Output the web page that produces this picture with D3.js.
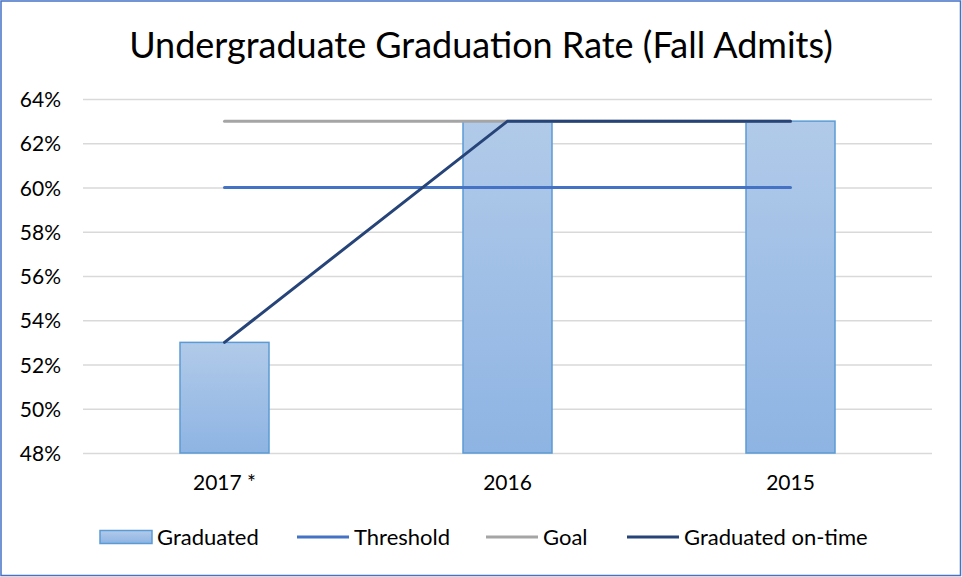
<!DOCTYPE html>
<html>
<head>
<meta charset="utf-8">
<script src="https://cdn.jsdelivr.net/npm/d3@7"></script>
<style>
  html, body { margin: 0; padding: 0; background: #fff; }
  svg text { font-family: Lato, "Open Sans", sans-serif; fill: #000; }
</style>
</head>
<body>
<svg id="chart" width="962" height="577"></svg>
<script>
const categories = ["2017 *", "2016", "2015"];
const graduated = [53, 63, 63];
const threshold = [60, 60, 60];
const goal = [63, 63, 63];
const onTime = [53, 63, 63];
const yTicks = [48, 50, 52, 54, 56, 58, 60, 62, 64];
const title = "Undergraduate Graduation Rate (Fall Admits)";
const legendItems = [
  { name: "Graduated", type: "bar" },
  { name: "Threshold", type: "line", color: "#4472C4" },
  { name: "Goal", type: "line", color: "#A5A5A5" },
  { name: "Graduated on-time", type: "line", color: "#264478" }
];

const W = 962, H = 577;
const svg = d3.select("#chart");

const defs = svg.append("defs");
const grad = defs.append("linearGradient").attr("id", "barGrad")
  .attr("x1", 0).attr("y1", 0).attr("x2", 0).attr("y2", 1);
grad.append("stop").attr("offset", "0%").attr("stop-color", "#B1CAE9");
grad.append("stop").attr("offset", "100%").attr("stop-color", "#8EB4E3");

// outer border
svg.append("rect").attr("x", 1).attr("y", 1).attr("width", W - 2.5).attr("height", H - 2.5)
  .attr("fill", "#fff").attr("stroke", "#4472C4").attr("stroke-width", 1.5);

const x = d3.scaleBand().domain(categories).range([83, 932]).paddingInner(0).paddingOuter(0);
const y = d3.scaleLinear().domain([48, 64]).range([453, 99]);

// title
svg.append("text").attr("x", 481).attr("y", 58).attr("text-anchor", "middle")
  .style("font-size", "36px").text(title);

// gridlines
const yAxis = d3.axisLeft(y).tickValues(yTicks).tickFormat(d => d + "%").tickSize(-(932 - 83)).tickPadding(22);
const gy = svg.append("g").attr("transform", "translate(83,0)").call(yAxis);
gy.select(".domain").remove();
gy.selectAll(".tick line").attr("stroke", "#D9D9D9").attr("stroke-width", 1.5);
gy.selectAll(".tick text").style("font-size", "21px").attr("fill", "#000").attr("dy", "0.36em");

// x axis labels
const xAxis = d3.axisBottom(x).tickSize(0).tickPadding(22);
const gx = svg.append("g").attr("transform", "translate(0,453)").call(xAxis);
gx.select(".domain").remove();
gx.selectAll(".tick text").style("font-size", "21px").attr("fill", "#000");

// bars
const barW = 89;
svg.append("g").selectAll("rect").data(graduated).join("rect")
  .attr("x", (d, i) => x(categories[i]) + x.bandwidth() / 2 - barW / 2)
  .attr("y", d => y(d))
  .attr("width", barW)
  .attr("height", d => y(48) - y(d))
  .attr("fill", "url(#barGrad)")
  .attr("stroke", "#5B9BD5").attr("stroke-width", 1.5);

const line = d3.line().x((d, i) => x(categories[i]) + x.bandwidth() / 2).y(d => y(d));
[[threshold, "#4472C4"], [goal, "#A5A5A5"], [onTime, "#264478"]].forEach(([data, color]) => {
  svg.append("path").datum(data).attr("d", line).attr("fill", "none")
    .attr("stroke", color).attr("stroke-width", 3).attr("stroke-linecap", "round");
});

// legend
const legendX = [100, 297, 486, 627];
const ly = 537;
const lg = svg.append("g");
legendItems.forEach((it, i) => {
  const gx0 = legendX[i];
  if (it.type === "bar") {
    lg.append("rect").attr("x", gx0).attr("y", ly - 6.5).attr("width", 52).attr("height", 13)
      .attr("fill", "url(#barGrad)").attr("stroke", "#5B9BD5").attr("stroke-width", 1.5);
  } else {
    lg.append("line").attr("x1", gx0).attr("x2", gx0 + 52).attr("y1", ly).attr("y2", ly)
      .attr("stroke", it.color).attr("stroke-width", 3);
  }
  lg.append("text").attr("x", gx0 + 57).attr("y", ly).attr("dy", "0.36em")
    .style("font-size", "22px").text(it.name);
});
</script>
</body>
</html>
